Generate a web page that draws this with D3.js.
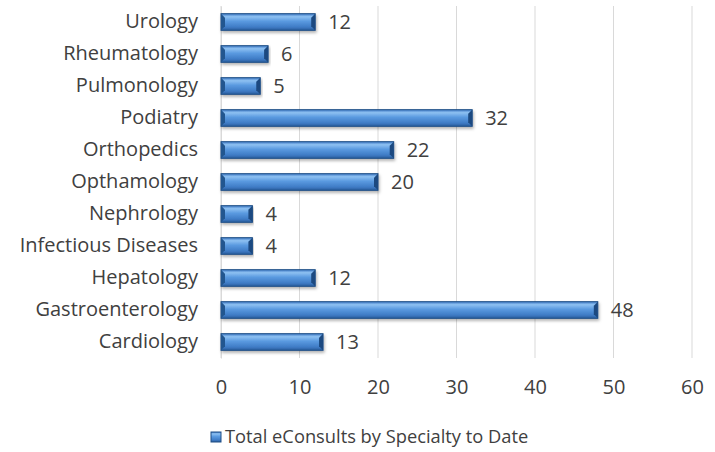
<!DOCTYPE html>
<html>
<head>
<meta charset="utf-8">
<script src="https://cdn.jsdelivr.net/npm/d3@7"></script>
<style>
  body { margin: 0; background: #fff; }
  svg text { font-family: "Open Sans", sans-serif; fill: #404040; }
</style>
</head>
<body>
<div id="chart"></div>
<script>
// data (top to bottom as drawn)
const specialties = ['Urology', 'Rheumatology', 'Pulmonology', 'Podiatry', 'Orthopedics',
  'Opthamology', 'Nephrology', 'Infectious Diseases', 'Hepatology', 'Gastroenterology', 'Cardiology'];
const consults = [12, 6, 5, 32, 22, 20, 4, 4, 12, 48, 13];
const xTicks = [0, 10, 20, 30, 40, 50, 60];
const seriesName = 'Total eConsults by Specialty to Date';

const width = 715, height = 452;
const margin = { top: 6, right: 23, bottom: 94, left: 221 };
const w = width - margin.left - margin.right;
const h = height - margin.top - margin.bottom;
const fontSize = '20px';

const svg = d3.select('#chart').append('svg')
  .attr('width', width).attr('height', height);

const defs = svg.append('defs');
const grad = defs.append('linearGradient').attr('id', 'barGrad')
  .attr('x1', 0).attr('y1', 0).attr('x2', 0).attr('y2', 1);
grad.append('stop').attr('offset', '0%').attr('stop-color', '#3d79c4');
grad.append('stop').attr('offset', '18%').attr('stop-color', '#8ec1f2');
grad.append('stop').attr('offset', '45%').attr('stop-color', '#5a9ae0');
grad.append('stop').attr('offset', '80%').attr('stop-color', '#3f7cc6');
grad.append('stop').attr('offset', '100%').attr('stop-color', '#2b5c9c');

const shadow = defs.append('filter').attr('id', 'shadow')
  .attr('x', '-5%').attr('y', '-30%').attr('width', '110%').attr('height', '180%');
shadow.append('feDropShadow').attr('dx', 1).attr('dy', 2).attr('stdDeviation', 1.5)
  .attr('flood-color', '#000').attr('flood-opacity', 0.3);

const g = svg.append('g').attr('transform', `translate(${margin.left},${margin.top})`);

const x = d3.scaleLinear().domain([0, 60]).range([0, w]);
const y = d3.scaleBand().domain(specialties).range([0, h]).paddingInner(0.48).paddingOuter(0.24);

// gridlines
g.append('g')
  .selectAll('line')
  .data(xTicks)
  .join('line')
  .attr('x1', d => x(d)).attr('x2', d => x(d))
  .attr('y1', 0).attr('y2', h)
  .attr('stroke', '#d9d9d9').attr('stroke-width', 1);

// x axis labels
const xAxis = g.append('g')
  .attr('transform', `translate(0,${h})`)
  .call(d3.axisBottom(x).tickValues(xTicks).tickSize(0).tickPadding(22));
xAxis.select('.domain').remove();
xAxis.selectAll('text').style('font-size', fontSize).attr('fill', '#404040')
  .style('font-family', '"Open Sans", sans-serif');

// y axis labels
const yAxis = g.append('g')
  .call(d3.axisLeft(y).tickSize(0).tickPadding(23));
yAxis.select('.domain').attr('stroke', '#d9d9d9');
yAxis.selectAll('text').style('font-size', fontSize).attr('fill', '#404040')
  .style('font-family', '"Open Sans", sans-serif');

const data = specialties.map((s, i) => ({ name: s, value: consults[i] }));
const bh = y.bandwidth();

// bars
const bars = g.append('g').selectAll('g.bar')
  .data(data)
  .join('g')
  .attr('class', 'bar')
  .attr('filter', 'url(#shadow)');

bars.append('rect')
  .attr('x', 0)
  .attr('y', d => y(d.name))
  .attr('width', d => x(d.value))
  .attr('height', bh)
  .attr('fill', 'url(#barGrad)')
  .attr('stroke', '#1f4e85').attr('stroke-width', 1);

// bevel at the ends
const bev = 4;
bars.append('path')
  .attr('d', d => {
    const y0 = y(d.name), y1 = y0 + bh;
    return `M0,${y0}L${bev},${y0 + bev}L${bev},${y1 - bev}L0,${y1}Z`;
  })
  .attr('fill', '#24568f');
bars.append('path')
  .attr('d', d => {
    const xr = x(d.value), y0 = y(d.name), y1 = y0 + bh;
    return `M${xr},${y0}L${xr - bev},${y0 + bev}L${xr - bev},${y1 - bev}L${xr},${y1}Z`;
  })
  .attr('fill', '#1d4a80');

// value labels
g.append('g').selectAll('text')
  .data(data)
  .join('text')
  .attr('x', d => x(d.value) + 13)
  .attr('y', d => y(d.name) + bh / 2)
  .attr('dy', '0.35em')
  .style('font-size', fontSize)
  .text(d => d.value);

// legend
const legend = svg.append('g').attr('transform', `translate(211,437)`);
legend.append('rect')
  .attr('x', 0).attr('y', -5).attr('width', 10).attr('height', 10)
  .attr('fill', 'url(#barGrad)').attr('stroke', '#1f4e85');
legend.append('text')
  .attr('x', 14).attr('y', 0).attr('dy', '0.35em')
  .style('font-size', '18.3px')
  .text(seriesName);
</script>
</body>
</html>
